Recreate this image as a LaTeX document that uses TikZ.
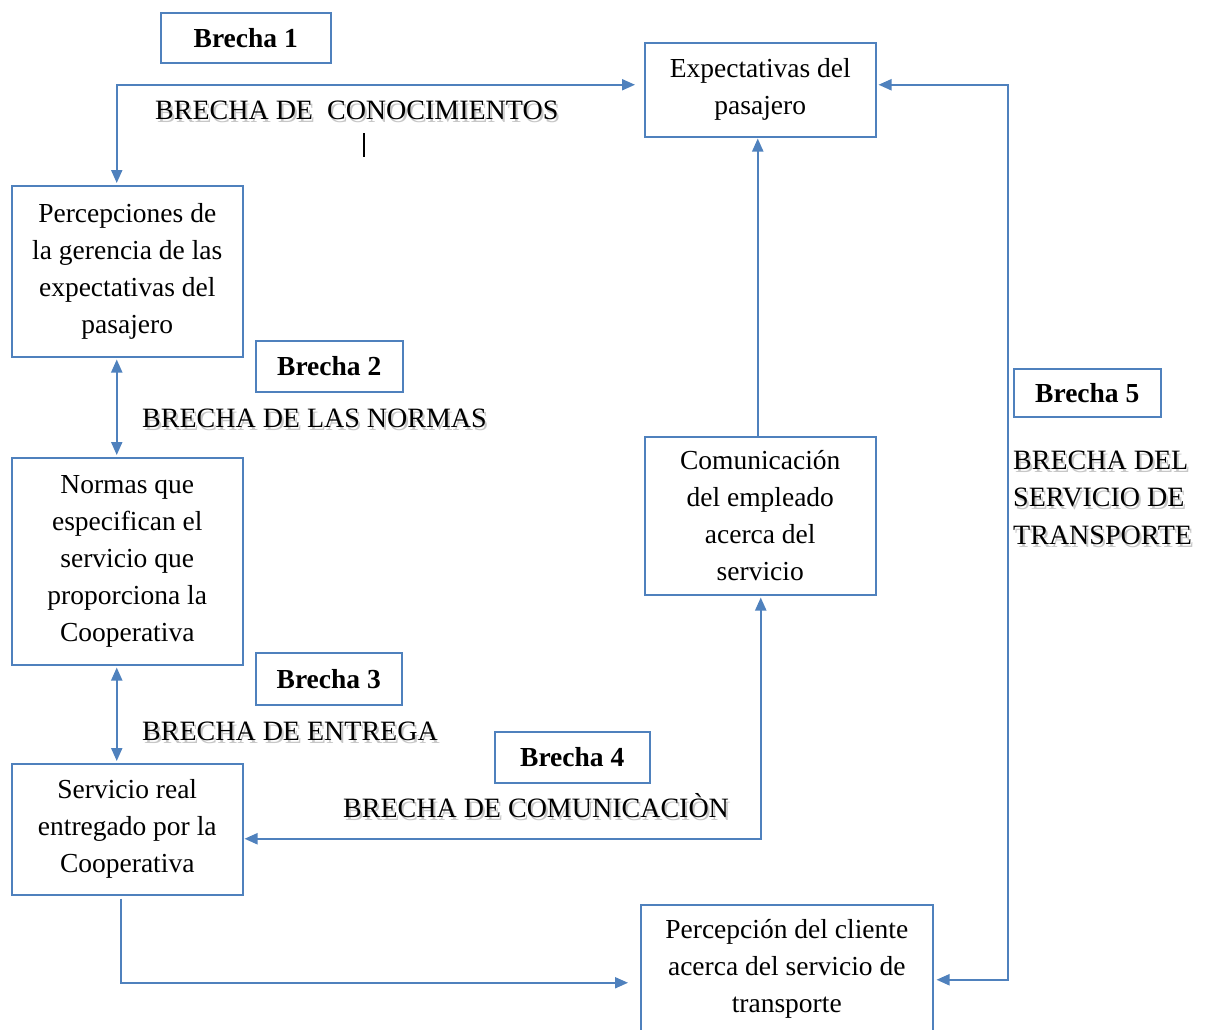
\documentclass[tikz,border=0pt]{standalone}
\usepackage{fontspec}
\setmainfont{Liberation Serif}
\usetikzlibrary{arrows.meta}
\definecolor{wordblue}{HTML}{4F81BD}
\newcommand\boxfont{\fontsize{27.5}{37}\selectfont}
\newcommand\gapfont{\fontsize{27.5}{33}\selectfont\bfseries}
\newcommand\capsfont{\fontsize{28}{34}\selectfont}
\tikzset{
  box/.style={draw=wordblue, line width=1.5pt, fill=white, inner sep=0pt,
    align=center, font=\boxfont, anchor=north west},
  gapbox/.style={draw=wordblue, line width=1.5pt, fill=white, inner sep=0pt,
    font=\gapfont, anchor=north west},
  link/.style={draw=wordblue, line width=2pt},
  head/.tip={Triangle[length=13pt,width=11pt]},
  caps/.style={font=\capsfont, inner sep=0pt, anchor=base west},
}
% label with a soft grey drop shadow: name, position, text
\newcommand\gaplabel[3]{%
  \node[caps, text=black, text opacity=0.22, xshift=2pt, yshift=-3pt] (#1-sh) at #2 {#3};
  \node[caps] (#1) at #2 {#3};
}
\begin{document}
\begin{tikzpicture}[x=1pt,y=-1pt]
\useasboundingbox (0,0) rectangle (1206,1029);

% main boxes
\node[box, minimum width=231pt, minimum height=94pt] (exp) at (644,42)
  {Expectativas del\\pasajero};
\node[box, minimum width=231pt, minimum height=171pt] (perc) at (11,185)
  {Percepciones de\\la gerencia de las\\expectativas del\\pasajero};
\node[box, minimum width=231pt, minimum height=207pt] (normas) at (11,457)
  {Normas que\\especifican el\\servicio que\\proporciona la\\Cooperativa};
\node[box, minimum width=231pt, minimum height=131pt] (serv) at (11,763)
  {Servicio real\\entregado por la\\Cooperativa};
\node[box, minimum width=231pt, minimum height=158pt] (com) at (644,436)
  {Comunicación\\del empleado\\acerca del\\servicio};
\node[box, minimum width=292pt, minimum height=128pt] (cli) at (640,904)
  {Percepción del cliente\\acerca del servicio de\\transporte};

% gap title boxes
\node[gapbox, minimum width=170pt, minimum height=50pt] (b1) at (160,12) {Brecha 1};
\node[gapbox, minimum width=147pt, minimum height=51pt] (b2) at (255,340) {Brecha 2};
\node[gapbox, minimum width=146pt, minimum height=52pt] (b3) at (255,652) {Brecha 3};
\node[gapbox, minimum width=155pt, minimum height=51pt] (b4) at (494,731) {Brecha 4};
\node[gapbox, minimum width=147pt, minimum height=48pt] (b5) at (1013,368) {Brecha 5};

% gap names
\gaplabel{g1}{(155,119)}{BRECHA DE\ \ CONOCIMIENTOS}
\gaplabel{g2}{(142,427)}{BRECHA DE LAS NORMAS}
\gaplabel{g3}{(142,740)}{BRECHA DE ENTREGA}
\gaplabel{g4}{(343,817)}{BRECHA DE COMUNICACIÒN}
\gaplabel{g5a}{(1013,469)}{BRECHA DEL}
\gaplabel{g5b}{(1013,506)}{SERVICIO DE}
\gaplabel{g5c}{(1013,544)}{TRANSPORTE}

% small vertical stroke under the first gap name
\draw[black, line width=1.2pt] (364,133) -- (364,157);

% connectors
\draw[link, {head}-{head}] ([xshift=-10.5pt,yshift=2pt]perc.north)
  |- ([xshift=-9pt,yshift=5pt]exp.west);
\draw[link, {head}-{head}] ([xshift=-10.5pt,yshift=-2pt]perc.south)
  -- ([xshift=-10.5pt,yshift=2pt]normas.north);
\draw[link, {head}-{head}] ([xshift=-10.5pt,yshift=-2pt]normas.south)
  -- ([xshift=-10.5pt,yshift=2pt]serv.north);
\draw[link, -{head}] ([xshift=-2.5pt]com.north)
  -- ([xshift=-2.5pt,yshift=-1pt]exp.south);
\draw[link, {head}-{head}] ([xshift=0.5pt,yshift=-2pt]com.south)
  |- ([xshift=1pt,yshift=-9.5pt]serv.east);
\draw[link, {head}-{head}] ([xshift=2pt,yshift=5pt]exp.east)
  -| ([xshift=74pt,yshift=-11pt]cli.east) -- ([xshift=3pt,yshift=-11pt]cli.east);
\draw[link, -{head}] ([xshift=-6.5pt,yshift=-3pt]serv.south)
  |- ([xshift=-12pt,yshift=-14pt]cli.west);
\end{tikzpicture}
\end{document}
